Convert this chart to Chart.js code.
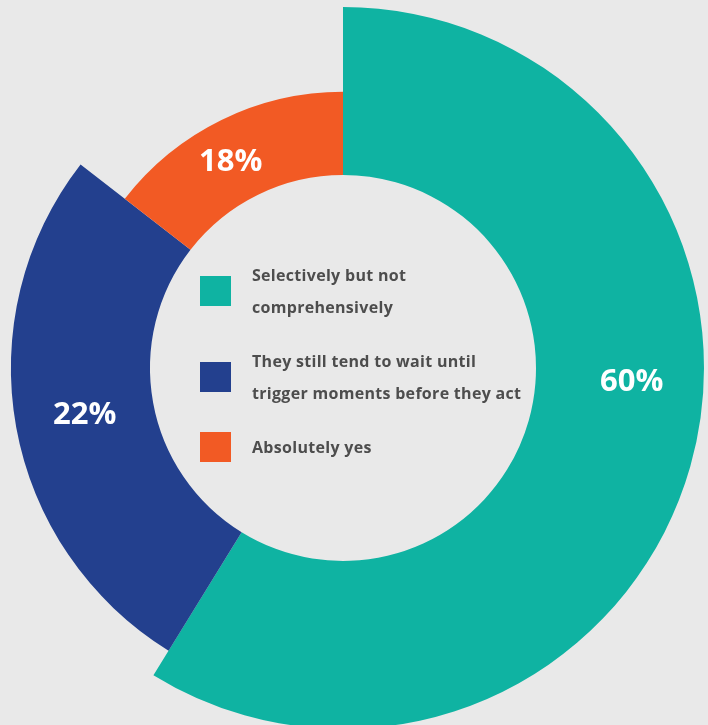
<!DOCTYPE html>
<html>
<head>
<meta charset="utf-8">
<script src="https://cdn.jsdelivr.net/npm/chart.js@4.4.0/dist/chart.umd.min.js"></script>
<style>
    html, body { margin: 0; padding: 0; background: #e9e9e9; }
    #wrap { position: relative; width: 708px; height: 725px; overflow: hidden; }
    canvas { display: block; position: absolute; left: -18px; top: 0; }
    #legend {
        position: absolute; left: 200px; top: 259px;
        font-family: "Open Sans", Lato, sans-serif; font-weight: bold;
        font-size: 16px; letter-spacing: 0.3px; color: #4d4d4d;
    }
    .item { display: flex; align-items: center; margin-bottom: 22px; }
    .swatch { width: 31px; height: 30px; margin-right: 21px; flex: none; }
    .text { line-height: 32px; white-space: nowrap; }
</style>
</head>
<body>
<div id="wrap">
    <canvas id="donutChart" width="726" height="729"></canvas>
    <div id="legend"></div>
</div>
<script>
// categories (legend lines as drawn)
const labels = [
    ['Selectively but not', 'comprehensively'],
    ['They still tend to wait until', 'trigger moments before they act'],
    ['Absolutely yes']
];
// printed percentages
const percentages = [60, 22, 18];
// share of the full circle each sector sweeps
const sectorShares = [58.8, 26.7, 14.5];
// outer radius of each sector relative to the largest one
const radiusShares = [100, 92, 76.5];
const colors = ['#0fb3a2', '#23408e', '#f25a24'];

// build the html legend
const legendEl = document.getElementById('legend');
labels.forEach((lines, i) => {
    const item = document.createElement('div');
    item.className = 'item';
    const sw = document.createElement('div');
    sw.className = 'swatch';
    sw.style.background = colors[i];
    const txt = document.createElement('div');
    txt.className = 'text';
    txt.innerHTML = lines.join('<br>');
    item.appendChild(sw);
    item.appendChild(txt);
    legendEl.appendChild(item);
});

// gives each arc its own outer radius
const variableRadius = {
    id: 'variableRadius',
    afterDatasetsUpdate(chart) {
        const meta = chart.getDatasetMeta(0);
        const maxR = meta.controller.outerRadius;
        meta.data.forEach((arc, i) => {
            arc.outerRadius = maxR * radiusShares[i] / 100;
        });
    }
};

// white percentage text in the middle of each ring piece
const sliceLabels = {
    id: 'sliceLabels',
    afterDatasetsDraw(chart, args, opts) {
        const ctx = chart.ctx;
        const meta = chart.getDatasetMeta(0);
        ctx.save();
        ctx.fillStyle = '#ffffff';
        ctx.font = 'bold 31px "Open Sans", sans-serif';
        ctx.textAlign = 'center';
        ctx.textBaseline = 'middle';
        meta.data.forEach((arc, i) => {
            const shift = (opts.angleShift[i] || 0) * Math.PI / 180;
            const mid = (arc.startAngle + arc.endAngle) / 2 + shift;
            const r = (arc.innerRadius + arc.outerRadius) / 2 + (opts.radiusShift[i] || 0);
            ctx.fillText(percentages[i] + '%', arc.x + Math.cos(mid) * r, arc.y + Math.sin(mid) * r);
        });
        ctx.restore();
    }
};

new Chart(document.getElementById('donutChart').getContext('2d'), {
    type: 'doughnut',
    data: {
        labels: labels.map(l => l.join(' ')),
        datasets: [{
            data: sectorShares,
            backgroundColor: colors,
            borderWidth: 0
        }]
    },
    options: {
        responsive: false,
        animation: false,
        events: [],
        cutout: 193,
        layout: { padding: { left: 0, right: 4, top: 7, bottom: 0 } },
        plugins: {
            legend: { display: false },
            tooltip: { enabled: false },
            sliceLabels: { angleShift: [-13, 0, -2.5], radiusShift: [12, 0, 0] }
        }
    },
    plugins: [variableRadius, sliceLabels]
});
</script>
</body>
</html>
